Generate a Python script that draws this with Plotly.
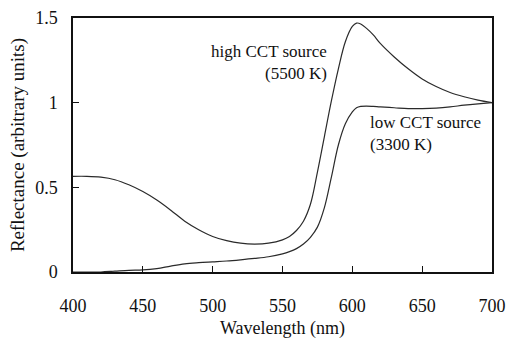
import plotly.graph_objects as go

wavelength = [400, 410, 420, 430, 440, 450, 460, 470, 480, 490, 500, 510, 520, 530, 540,
              550, 555, 560, 565, 570, 575, 580, 585, 590, 595, 600, 603, 606, 610, 615,
              620, 630, 640, 650, 660, 670, 680, 690, 700]

high_cct = [0.565, 0.565, 0.56, 0.545, 0.515, 0.475, 0.425, 0.365, 0.30, 0.25, 0.21, 0.185,
            0.17, 0.165, 0.17, 0.19, 0.21, 0.245, 0.30, 0.40, 0.59, 0.80, 1.01, 1.20, 1.36,
            1.45, 1.47, 1.465, 1.44, 1.40, 1.35, 1.27, 1.20, 1.14, 1.095, 1.06, 1.035, 1.015, 1.0]

low_cct = [0.0, 0.0, 0.0, 0.005, 0.01, 0.012, 0.02, 0.035, 0.048, 0.055, 0.06, 0.065,
           0.072, 0.08, 0.09, 0.107, 0.12, 0.138, 0.165, 0.205, 0.265, 0.38, 0.56, 0.75, 0.875,
           0.945, 0.97, 0.978, 0.98, 0.978, 0.975, 0.97, 0.965, 0.965, 0.968, 0.975, 0.985,
           0.993, 1.0]

x_ticks = [400, 450, 500, 550, 600, 650, 700]
y_ticks = [0, 0.5, 1, 1.5]
y_tick_labels = ["0", "0.5", "1", "1.5"]

FONT = "Liberation Serif"
INK = "#111111"

fig = go.Figure()
fig.add_trace(go.Scatter(x=wavelength, y=high_cct, mode="lines",
                         line=dict(color="#2a2a2a", width=1.2, shape="spline", smoothing=1.0),
                         showlegend=False))
fig.add_trace(go.Scatter(x=wavelength, y=low_cct, mode="lines",
                         line=dict(color="#2a2a2a", width=1.2, shape="spline", smoothing=1.0),
                         showlegend=False))

fig.add_annotation(x=600, y=1.24, xref="x", yref="y", text="high CCT source<br>(5500 K)",
                   showarrow=False, align="right", xanchor="right", yanchor="middle",
                   xshift=-23, font=dict(family=FONT, size=17, color=INK))
fig.add_annotation(x=611, y=0.82, xref="x", yref="y", text="low CCT source<br>(3300 K)",
                   showarrow=False, align="left", xanchor="left", yanchor="middle",
                   font=dict(family=FONT, size=17, color=INK))

fig.update_layout(
    width=506, height=339,
    margin=dict(l=73, r=14, t=18, b=67, autoexpand=False),
    paper_bgcolor="white", plot_bgcolor="white",
    font=dict(family=FONT, size=18, color=INK),
)
fig.update_xaxes(range=[400, 700], tickvals=x_ticks, ticks="inside", ticklen=6,
                 tickwidth=1.2, tickcolor=INK, showline=True, linecolor=INK, linewidth=1.5,
                 mirror=True, showgrid=False, zeroline=False, automargin=False,
                 title=dict(text="Wavelength (nm)", font=dict(family=FONT, size=18), standoff=18),
                 tickfont=dict(family=FONT, size=18, color=INK), ticklabelstandoff=17)
fig.update_yaxes(range=[0, 1.5], tickvals=y_ticks, ticktext=y_tick_labels, ticks="inside",
                 ticklen=6, tickwidth=1.2, tickcolor=INK, showline=True, linecolor=INK,
                 linewidth=1.5, mirror=True, showgrid=False, zeroline=False, automargin=False,
                 title=dict(text="Reflectance (arbitrary units)", font=dict(family=FONT, size=19),
                            standoff=6),
                 tickfont=dict(family=FONT, size=18, color=INK), ticklabelstandoff=10)

fig.write_html("out.html")
